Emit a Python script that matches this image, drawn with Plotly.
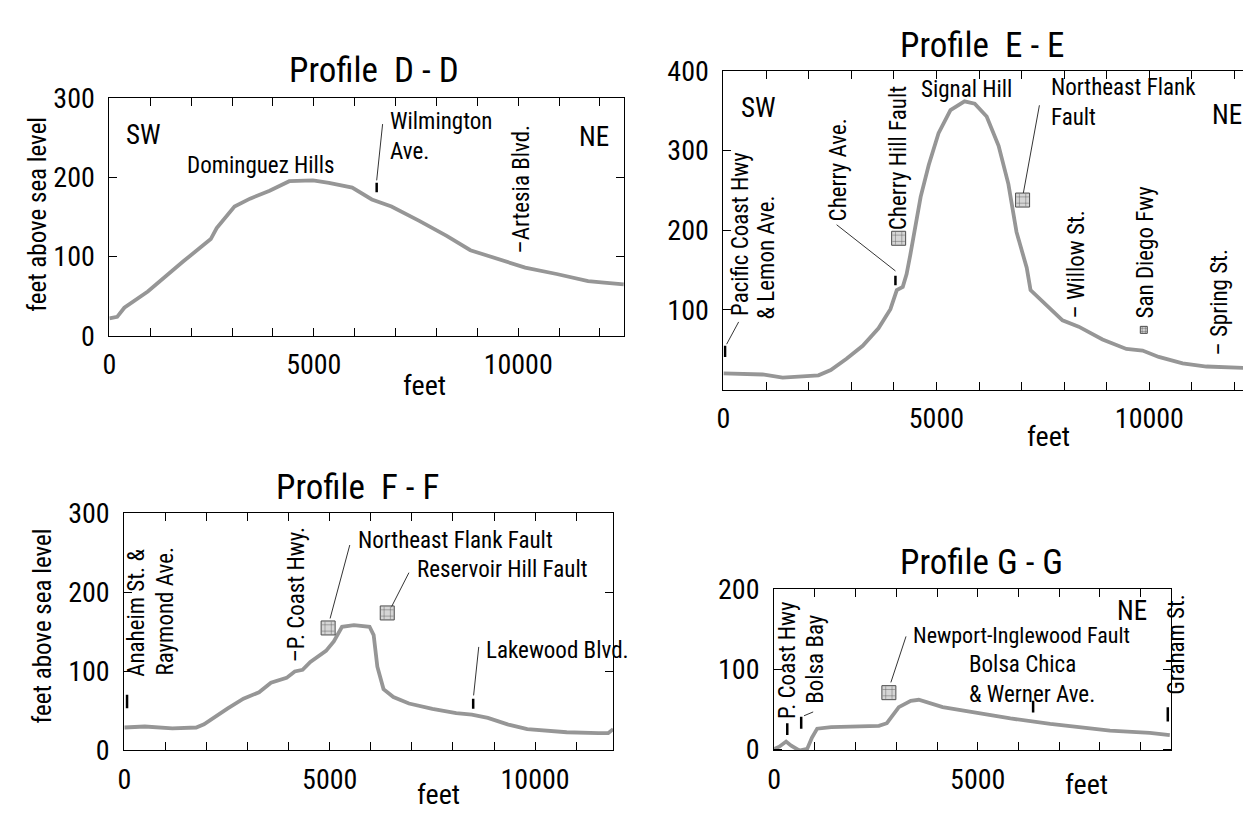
import plotly.graph_objects as go

W, H = 1251, 817
FONT = "Roboto Condensed, DejaVu Sans Condensed, sans-serif"
LINE_COLOR = "#969696"

# ---------------- data (distance in feet, elevation in feet) ----------------
D_dist = [0, 190, 365, 940, 1810, 2190, 2480, 2625, 3060, 3440, 3920, 4400, 4980, 5370,
          5940, 6420, 6900, 7580, 8250, 8830, 9600, 10170, 10940, 11710, 12100, 12580]
D_elev = [22, 24, 35.5, 56, 94, 110, 122, 136, 163, 173, 183, 195, 196, 193,
          187, 172, 163, 145, 126, 108, 95, 86, 78, 69, 67, 65]

E_dist = [0, 920, 1390, 2230, 2520, 2890, 3270, 3640, 3920, 4070, 4210, 4300, 4390, 4490,
          4630, 4820, 5050, 5330, 5660, 5900, 6180, 6460, 6690, 6880, 7120, 7210, 7590,
          7960, 8340, 8900, 9460, 9840, 10220, 10780, 11340, 12000, 12545]
E_elev = [20.5, 19, 15, 18, 24.5, 38.7, 55, 77, 101, 125, 129, 145, 170, 202,
          242, 282, 322, 351, 362, 359, 343, 306, 258, 198, 153, 125, 105,
          87, 79, 63, 51, 49, 41, 33, 29, 28, 26.6]

F_dist = [0, 500, 1170, 1750, 1940, 2130, 2510, 2900, 3280, 3570, 3950, 4150, 4340, 4530,
          4910, 5100, 5300, 5590, 5970, 6070, 6160, 6310, 6550, 6930, 7500, 8080, 8460,
          8850, 9330, 9810, 10770, 11540, 11780, 11900]
F_elev = [29, 30.3, 27.9, 29, 33, 40, 53, 65.5, 73.6, 85.7, 91.8, 100, 102, 112,
          126, 138, 156.5, 158.5, 156.5, 146, 106, 77.6, 67.5, 59.4, 52.6, 47.3, 45.3,
          41.2, 33, 27, 23, 21.8, 21.8, 27]

G_dist = [0, 127, 294, 420, 616, 812, 930, 1057, 1400, 1986, 2573, 2769, 3062, 3356,
          3552, 4139, 4922, 5802, 6780, 7270, 8248, 9226, 9716]
G_elev = [0.4, 3.2, 9.6, 4.4, -1.6, 0.4, 14.5, 25.7, 27.7, 28.5, 29.3, 32.5, 52.6, 60.6,
          61.8, 52.6, 45.8, 38.5, 31.7, 28.5, 23.3, 20.5, 17.7]

# fault markers (distance, elevation, marker size)
D_fault_x, D_fault_y, D_fault_s = [], [], []
E_fault_x = [4113, 7023, 9869]
E_fault_y = [190, 238, 75]
E_fault_s = [14, 14, 7]
F_fault_x = [4962, 6401]
F_fault_y = [155, 174]
F_fault_s = [14, 14]
G_fault_x = [2818]
G_fault_y = [70.7]
G_fault_s = [14]

# street position ticks (distance, from elevation, to elevation)
D_st_x, D_st_y0, D_st_y1 = [6538], [181], [193]
E_st_x, E_st_y0, E_st_y1 = [38, 4038], [41, 131], [55, 143]
F_st_x, F_st_y0, F_st_y1 = [67, 8493], [53.4, 52.6], [70.4, 65.5]
G_st_x, G_st_y0, G_st_y1 = [323, 665, 6360, 9667], [17.7, 25.7, 45.8, 34.5], [32.5, 40.6, 60.6, 52.6]

# leader lines (x0, y0, x1, y1)
D_lead = [(6538, 196, 6683, 267)]
E_lead = [(357, 85, 75, 57), (2657, 207, 4038, 149), (7418, 357, 7042, 247)]
F_lead = [(5489, 260, 5010, 167), (6929, 225, 6497, 181), (8628, 131, 8503, 69.6)]
G_lead = [(3239, 141, 2867, 83.5), (959, 46.6, 734, 41.8)]

# text labels (text, x, y, angle, anchor, size)
D_labels = [("SW", 846, 253, 0, "center", 27), ("NE", 11856, 251, 0, "center", 27),
            ("Dominguez Hills", 3711, 215, 0, "center", 23),
            ("Wilmington<br>Ave.", 6808, 251, 0, "left", 23),
            ("\u2013Artesia Blvd.", 10077, 185, -90, "center", 23)]
E_labels = [("SW", 826, 354, 0, "center", 27), ("NE", 11812, 345, 0, "center", 27),
            ("Signal Hill", 5709, 377, 0, "center", 23),
            ("Northeast Flank<br>Fault", 7634, 360, 0, "left", 23),
            ("Cherry Hill Fault", 4113, 290, -90, "center", 23),
            ("Cherry Ave.", 2704, 276, -90, "center", 23),
            ("Pacific Coast Hwy", 404, 195, -90, "center", 23),
            ("& Lemon Ave.", 1014, 165.5, -90, "center", 23),
            ("\u2013 Willow St.", 8291, 156.6, -90, "center", 23),
            ("San Diego Fwy", 9906, 172.7, -90, "center", 23),
            ("\u2013 Spring St.", 11624, 110, -90, "center", 23)]
F_labels = [("Anaheim St. &", 307, 174, -90, "center", 23),
            ("Raymond Ave.", 1008, 176.7, -90, "center", 23),
            ("\u2013P. Coast Hwy.", 4194, 197, -90, "center", 23),
            ("Northeast Flank Fault", 5633, 265.7, 0, "left", 23),
            ("Reservoir Hill Fault", 7073, 229, 0, "left", 23),
            ("Lakewood Blvd.", 8752, 126, 0, "left", 23)]
G_labels = [("NE", 8787, 173, 0, "center", 27),
            ("Newport-Inglewood Fault", 3356, 142, 0, "left", 22),
            ("Bolsa Chica<br>& Werner Ave.", 4726, 87.6, 0, "left", 23),
            ("P. Coast Hwy", 323, 112, -90, "center", 23),
            ("Bolsa Bay", 1027, 113, -90, "center", 23),
            ("Graham St.", 9730, 131, -90, "center", 23)]

titles = ["Profile  D - D", "Profile  E - E", "Profile  F - F", "Profile G - G"]

# ---------------- layout geometry (pixels) ----------------
boxes = [(95, 613, 77, 325), (713, 1251, 49, 381), (110, 602, 510, 757), (764, 1163, 589, 757)]
xranges = [[0, 12590], [0, 12550], [0, 11900], [0, 9735]]
yranges = [[0, 300], [0, 400], [0, 300], [-1.5, 200]]
xmax_tick = [12000, 12000, 11000, 9000]
ylabel_vals = [[0, 100, 200, 300], [100, 200, 300, 400], [0, 100, 200, 300], [0, 100, 200]]
title_pos = [(361, 48), (974, 22), (345, 483), (973, 561)]
feet_pos = [(7720, 377), (7630, 430), (7650, 803), (7660, 793)]
ytitle_pos = [(22, 198), (None, None), (28, 627), (None, None)]

panels = [
    (D_dist, D_elev, D_fault_x, D_fault_y, D_fault_s, D_st_x, D_st_y0, D_st_y1, D_lead, D_labels),
    (E_dist, E_elev, E_fault_x, E_fault_y, E_fault_s, E_st_x, E_st_y0, E_st_y1, E_lead, E_labels),
    (F_dist, F_elev, F_fault_x, F_fault_y, F_fault_s, F_st_x, F_st_y0, F_st_y1, F_lead, F_labels),
    (G_dist, G_elev, G_fault_x, G_fault_y, G_fault_s, G_st_x, G_st_y0, G_st_y1, G_lead, G_labels),
]

fig = go.Figure()
annotations = []
layout_axes = {}

for i, (px, py, fx, fy, fs, sx, sy0, sy1, leads, labels) in enumerate(panels):
    n = "" if i == 0 else str(i + 1)
    xa, ya = "x" + n, "y" + n
    l, r, t, b = boxes[i]
    xt = list(range(0, xmax_tick[i] + 1, 1000))
    xtt = [str(v) if v in (0, 5000, 10000) else "" for v in xt]
    yt = list(range(0, int(yranges[i][1]) + 1, 100))
    ytt = [str(v) if v in ylabel_vals[i] else "" for v in yt]
    common = dict(ticks="inside", ticklen=8, tickwidth=1, tickcolor="black",
                  showline=True, linecolor="black", linewidth=1, mirror="ticks",
                  showgrid=False, zeroline=False, fixedrange=True,
                  tickfont=dict(family=FONT, size=28, color="black"))
    layout_axes["xaxis" + n] = dict(domain=[l / W, r / W], range=xranges[i], anchor=ya,
                                    tickmode="array", tickvals=xt, ticktext=xtt,
                                    ticklabelstandoff=4, **common)
    layout_axes["yaxis" + n] = dict(domain=[1 - b / H, 1 - t / H], range=yranges[i], anchor=xa,
                                    tickmode="array", tickvals=yt, ticktext=ytt,
                                    ticklabelstandoff=8, **common)

    # profile line
    fig.add_trace(go.Scatter(x=px, y=py, mode="lines", xaxis=xa, yaxis=ya,
                             line=dict(color=LINE_COLOR, width=3.8), hoverinfo="skip",
                             showlegend=False))
    # leader lines
    lx, ly = [], []
    for (x0, y0, x1, y1) in leads:
        lx += [x0, x1, None]
        ly += [y0, y1, None]
    fig.add_trace(go.Scatter(x=lx, y=ly, mode="lines", xaxis=xa, yaxis=ya,
                             line=dict(color="black", width=0.8), hoverinfo="skip",
                             showlegend=False))
    # street ticks
    tx, ty = [], []
    for x0, a0, a1 in zip(sx, sy0, sy1):
        tx += [x0, x0, None]
        ty += [a0, a1, None]
    fig.add_trace(go.Scatter(x=tx, y=ty, mode="lines", xaxis=xa, yaxis=ya,
                             line=dict(color="black", width=2.5), hoverinfo="skip",
                             showlegend=False))
    # fault markers
    if fx:
        fig.add_trace(go.Scatter(x=fx, y=fy, mode="markers", xaxis=xa, yaxis=ya,
                                 marker=dict(symbol="square", size=fs, color="#c4c4c4",
                                             line=dict(color="black", width=1)),
                                 hoverinfo="skip", showlegend=False))
        fig.add_trace(go.Scatter(x=fx, y=fy, mode="markers", xaxis=xa, yaxis=ya,
                                 marker=dict(symbol="hash-open", size=[s * 0.9 for s in fs],
                                             color="#555555", line=dict(width=0.6)),
                                 hoverinfo="skip", showlegend=False))

    # text labels
    for (txt, x0, y0, ang, anc, sz) in labels:
        annotations.append(dict(text=txt, x=x0, y=y0, xref=xa, yref=ya, showarrow=False,
                                textangle=ang, xanchor=anc, yanchor="middle", align="left",
                                xshift=(6 if txt == "Graham St." else 0),
                                font=dict(family=FONT, size=sz, color="black")))
    # titles
    tx_, ty_ = title_pos[i]
    annotations.append(dict(text=titles[i], x=tx_ / W, y=1 - ty_ / H, xref="paper", yref="paper",
                            showarrow=False, xanchor="center", yanchor="middle",
                            font=dict(family=FONT, size=35, color="black")))
    fxp, fyp = feet_pos[i]
    annotations.append(dict(text="feet", x=fxp, y=1 - fyp / H, xref=xa, yref="paper",
                            showarrow=False, xanchor="center", yanchor="middle",
                            font=dict(family=FONT, size=28, color="black")))
    yx, yy = ytitle_pos[i]
    if yx is not None:
        annotations.append(dict(text="feet above sea level", x=yx / W, y=1 - yy / H,
                                xref="paper", yref="paper", showarrow=False, textangle=-90,
                                xanchor="center", yanchor="middle",
                                font=dict(family=FONT, size=25, color="black")))

fig.update_layout(width=W, height=H, margin=dict(l=0, r=0, t=0, b=0),
                  paper_bgcolor="white", plot_bgcolor="white",
                  annotations=annotations, **layout_axes)

fig.write_html("out.html", config={"displayModeBar": False})
